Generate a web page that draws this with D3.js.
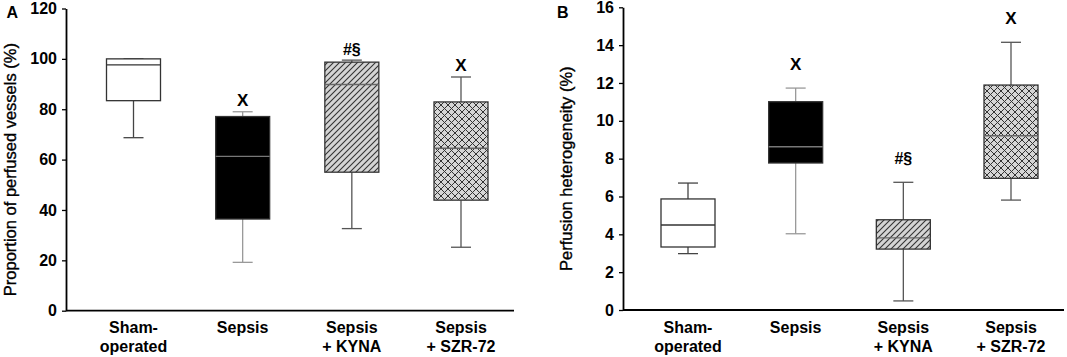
<!DOCTYPE html>
<html>
<head>
<meta charset="utf-8">
<script src="https://cdn.jsdelivr.net/npm/d3@7"></script>
<style>
  body { margin: 0; background: #fff; }
  svg { display: block; font-family: Arial, "Liberation Sans", sans-serif; }
</style>
</head>
<body>
<div id="chart"></div>
<script>
const GROUPS = ["sham", "sepsis", "kyna", "szr"];
const GROUP_LABELS = [["Sham-", "operated"], ["Sepsis"], ["Sepsis", "+ KYNA"], ["Sepsis", "+ SZR-72"]];

// [low whisker, q1, median, q3, high whisker]
const perfusedStats = [
  [68.7, 83.4, 97.6, 100, 100],
  [19.2, 36.4, 61.3, 77.1, 79],
  [32.6, 55, 89.8, 98.7, 99.5],
  [25.2, 43.9, 64.5, 82.9, 92.8]
];
const heteroStats = [
  [2.98, 3.33, 4.49, 5.87, 6.71],
  [4.03, 7.77, 8.63, 11.01, 11.73],
  [0.48, 3.22, 3.81, 4.77, 6.75],
  [5.81, 6.96, 9.21, 11.89, 14.15]
];
const perfusedMarks = ["", "X", "#§", "X"];
const heteroMarks = ["", "X", "#§", "X"];
const perfusedTicks = [0, 20, 40, 60, 80, 100, 120];
const heteroTicks = [0, 2, 4, 6, 8, 10, 12, 14, 16];

const W = 1067, H = 357;
const BOX_W = 54, CAP_W = 20;

// per-group styling: fill, median colour, whisker colour
const STYLE = [
  { fill: "#fff", median: "#333", whisker: "#444" },
  { fill: "#000", median: "#777", whisker: "#999" },
  { fill: "url(#hatch)", median: "#666", whisker: "#555" },
  { fill: "url(#cross)", median: "#666", whisker: "#555" }
];

const svg = d3.select("#chart").append("svg")
  .attr("width", W).attr("height", H);

const defs = svg.append("defs");
const hatch = defs.append("pattern")
  .attr("id", "hatch").attr("patternUnits", "userSpaceOnUse")
  .attr("width", 6).attr("height", 6);
hatch.append("rect").attr("width", 6).attr("height", 6).attr("fill", "#d4d4d4");
hatch.append("path").attr("d", "M-1,1 l2,-2 M0,6 l6,-6 M5,7 l2,-2")
  .attr("stroke", "#333").attr("stroke-width", 1.1);

const cross = defs.append("pattern")
  .attr("id", "cross").attr("patternUnits", "userSpaceOnUse")
  .attr("width", 7).attr("height", 7);
cross.append("rect").attr("width", 7).attr("height", 7).attr("fill", "#d6d6d6");
cross.append("path").attr("d", "M-1,1 l2,-2 M0,7 l7,-7 M6,8 l2,-2 M-1,6 l2,2 M0,0 l7,7 M6,-1 l2,2")
  .attr("stroke", "#333").attr("stroke-width", 1);

function panel(opts) {
  const { left, right, top, bottom, max, ticks, stats, marks, title, titleX, letter, letterX, xRange, markGap } = opts;
  const y = d3.scaleLinear().domain([0, max]).range([bottom, top]);
  const x = d3.scalePoint().domain(GROUPS).range(xRange);
  const g = svg.append("g");

  // y axis
  const ax = g.append("g")
    .attr("transform", `translate(${left},0)`)
    .call(d3.axisLeft(y).tickValues(ticks).tickSize(4).tickPadding(5).tickSizeOuter(0));
  ax.select(".domain").attr("stroke", "#000").attr("stroke-width", 1.8);
  ax.selectAll(".tick line").attr("stroke", "#000").attr("stroke-width", 1.3);
  ax.selectAll(".tick text")
    .attr("font-size", 16).attr("font-weight", "bold").attr("fill", "#000")
    .attr("font-family", "Arial, 'Liberation Sans', sans-serif");

  // x baseline
  g.append("line")
    .attr("x1", left).attr("x2", right)
    .attr("y1", bottom).attr("y2", bottom)
    .attr("stroke", "#000").attr("stroke-width", 1.8);

  GROUPS.forEach((key, i) => {
    const [lo, q1, med, q3, hi] = stats[i];
    const cx = x(key);
    const st = STYLE[i];
    const bg = g.append("g");

    // whiskers
    bg.append("line").attr("x1", cx).attr("x2", cx).attr("y1", y(q3)).attr("y2", y(hi))
      .attr("stroke", st.whisker).attr("stroke-width", 1.3);
    bg.append("line").attr("x1", cx).attr("x2", cx).attr("y1", y(q1)).attr("y2", y(lo))
      .attr("stroke", st.whisker).attr("stroke-width", 1.3);
    [lo, hi].forEach(v => {
      bg.append("line").attr("x1", cx - CAP_W / 2).attr("x2", cx + CAP_W / 2)
        .attr("y1", y(v)).attr("y2", y(v))
        .attr("stroke", st.whisker).attr("stroke-width", 1.3);
    });

    // box
    bg.append("rect")
      .attr("x", cx - BOX_W / 2).attr("y", y(q3))
      .attr("width", BOX_W).attr("height", y(q1) - y(q3))
      .attr("fill", st.fill).attr("stroke", "#333").attr("stroke-width", 1.3);
    bg.append("line")
      .attr("x1", cx - BOX_W / 2).attr("x2", cx + BOX_W / 2)
      .attr("y1", y(med)).attr("y2", y(med))
      .attr("stroke", st.median).attr("stroke-width", 1.4);

    // significance marks
    if (marks[i]) {
      g.append("text")
        .attr("x", cx).attr("y", y(hi) - markGap)
        .attr("text-anchor", "middle").attr("dominant-baseline", "central")
        .attr("font-size", marks[i] === "X" ? 17 : 16).attr("font-weight", "bold")
        .text(marks[i]);
    }

    // category labels
    const lab = g.append("text")
      .attr("text-anchor", "middle")
      .attr("font-size", 16).attr("font-weight", "bold");
    GROUP_LABELS[i].forEach((t, k) => {
      lab.append("tspan").attr("x", cx).attr("y", 333 + k * 19).text(t);
    });
  });

  // y title
  g.append("text")
    .attr("transform", `translate(${titleX},${(top + bottom) / 2 + 10}) rotate(-90)`)
    .attr("text-anchor", "middle").attr("dominant-baseline", "central")
    .attr("font-size", 16.5).attr("stroke", "#000").attr("stroke-width", 0.35)
    .text(title);

  // panel letter
  g.append("text")
    .attr("x", letterX).attr("y", 18)
    .attr("font-size", 16).attr("font-weight", "bold")
    .text(letter);
}

panel({
  left: 66, right: 514, top: 8.5, bottom: 310.7,
  max: 120, ticks: perfusedTicks, stats: perfusedStats, marks: perfusedMarks,
  title: "Proportion of perfused vessels (%)", titleX: 10,
  letter: "A", letterX: 6.5, xRange: [133.5, 461], markGap: 11
});

panel({
  left: 623, right: 1064, top: 7.3, bottom: 310,
  max: 16, ticks: heteroTicks, stats: heteroStats, marks: heteroMarks,
  title: "Perfusion heterogeneity (%)", titleX: 566,
  letter: "B", letterX: 557, xRange: [688, 1011], markGap: 24
});
</script>
</body>
</html>
